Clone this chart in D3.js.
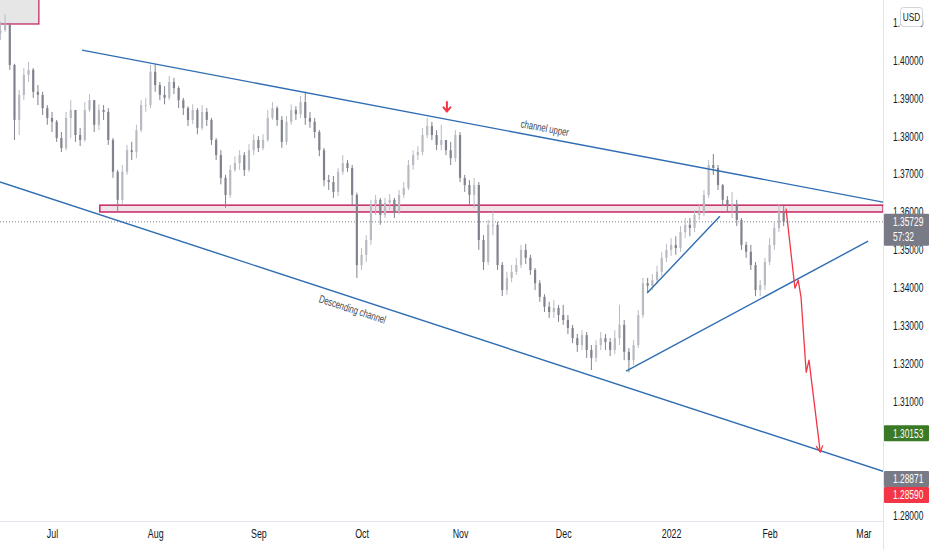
<!DOCTYPE html>
<html><head><meta charset="utf-8">
<script src="https://cdn.jsdelivr.net/npm/d3@7/dist/d3.min.js"></script>
<style>
html,body{margin:0;padding:0;background:#fff;}
svg{display:block;}
text{font-family:"Liberation Sans",Arial,sans-serif;}
</style></head>
<body>
<svg id="chart" width="932" height="550"></svg>
<script>
// ---------------- DATA ----------------
// daily bars, bar index 0 = 1 Jul 2021 (trading-day index)
const firstBar = -11;
const firstOpen = 1.4070;
const high = [1.4101,1.4121,1.4098,1.3990,1.3921,1.3979,1.3995,1.3979,1.3934,1.3916,1.3881,
1.3863,1.3842,1.3810,1.3863,1.3894,1.3868,1.3821,1.3889,1.3910,1.3894,1.3883,1.3881,1.3873,1.3794,1.3710,1.3723,1.3776,1.3784,1.3829,1.3894,1.3900,1.3987,
1.3989,1.3942,1.3931,1.3958,1.3953,1.3931,1.3900,1.3878,1.3883,1.3873,1.3881,1.3873,1.3847,1.3794,1.3762,1.3697,1.3723,1.3746,1.3762,1.3757,1.3778,1.3804,
1.3799,1.3804,1.3868,1.3889,1.3878,1.3852,1.3852,1.3883,1.3878,1.3905,1.3916,1.3863,1.3847,1.3815,1.3768,1.3697,1.3694,1.3715,1.3749,1.3736,1.3723,1.3650,
1.3504,1.3538,1.3631,1.3644,1.3636,1.3636,1.3646,1.3636,1.3657,1.3678,1.3736,1.3762,1.3773,1.3821,1.3847,1.3837,1.3815,1.3829,1.3789,1.3784,1.3815,
1.3810,1.3697,1.3683,1.3689,1.3678,1.3538,1.3578,1.3599,1.3573,1.3467,1.3441,1.3459,1.3478,1.3512,1.3515,1.3486,1.3451,1.3419,1.3382,1.3362,1.3367,1.3354,
1.3354,1.3327,1.3301,1.3277,1.3287,1.3282,1.3248,1.3261,1.3282,1.3277,1.3266,1.3287,1.3354,1.3314,1.3240,1.3261,1.3340,1.3425,1.3425,1.3435,1.3457,1.3494,1.3515,
1.3530,1.3535,1.3562,1.3583,1.3583,1.3604,1.3618,1.3657,1.3736,1.3752,1.3723,1.3673,1.3641,1.3652,1.3631,1.3583,1.3520,1.3512,1.3467,1.3419,1.3478,
1.3530,1.3573,1.3618,1.3615];
const low = [1.4053,1.4074,1.3974,1.3789,1.3802,1.3894,1.3942,1.3900,1.3881,1.3855,1.3829,
1.3810,1.3784,1.3757,1.3762,1.3794,1.3784,1.3773,1.3784,1.3863,1.3810,1.3815,1.3842,1.3776,1.3689,1.3599,1.3618,1.3697,1.3736,1.3741,1.3810,1.3863,1.3873,
1.3916,1.3894,1.3883,1.3894,1.3910,1.3873,1.3855,1.3826,1.3831,1.3804,1.3815,1.3826,1.3776,1.3736,1.3672,1.3610,1.3636,1.3705,1.3710,1.3694,1.3705,1.3749,
1.3757,1.3762,1.3784,1.3842,1.3826,1.3768,1.3776,1.3829,1.3842,1.3847,1.3829,1.3821,1.3794,1.3746,1.3667,1.3657,1.3636,1.3641,1.3697,1.3705,1.3618,1.3425,
1.3446,1.3467,1.3512,1.3591,1.3565,1.3583,1.3604,1.3583,1.3593,1.3636,1.3657,1.3710,1.3736,1.3749,1.3794,1.3789,1.3762,1.3762,1.3749,1.3723,1.3731,
1.3678,1.3652,1.3618,1.3610,1.3499,1.3446,1.3459,1.3538,1.3446,1.3377,1.3380,1.3414,1.3433,1.3451,1.3462,1.3433,1.3393,1.3362,1.3335,1.3319,1.3319,1.3309,
1.3301,1.3277,1.3253,1.3230,1.3235,1.3214,1.3182,1.3203,1.3235,1.3235,1.3219,1.3224,1.3248,1.3208,1.3176,1.3195,1.3240,1.3319,1.3388,1.3393,1.3409,1.3430,1.3467,
1.3483,1.3486,1.3494,1.3530,1.3535,1.3546,1.3578,1.3588,1.3636,1.3697,1.3657,1.3615,1.3599,1.3583,1.3562,1.3499,1.3478,1.3446,1.3377,1.3377,1.3393,
1.3459,1.3499,1.3546,1.3562];
const close = [1.4079,1.4093,1.3987,1.3842,1.3908,1.3961,1.3974,1.3916,1.3908,1.3873,1.3847,
1.3837,1.3794,1.3768,1.3847,1.3868,1.3802,1.3789,1.3868,1.3894,1.3829,1.3868,1.3863,1.3789,1.3705,1.3631,1.3705,1.3762,1.3757,1.3815,1.3881,1.3881,1.3969,
1.3934,1.3908,1.3900,1.3942,1.3926,1.3894,1.3873,1.3842,1.3868,1.3821,1.3863,1.3842,1.3789,1.3749,1.3689,1.3644,1.3710,1.3728,1.3749,1.3710,1.3762,1.3789,
1.3768,1.3789,1.3847,1.3873,1.3842,1.3784,1.3837,1.3868,1.3857,1.3889,1.3847,1.3837,1.3810,1.3762,1.3683,1.3678,1.3652,1.3705,1.3728,1.3715,1.3644,1.3459,
1.3486,1.3525,1.3618,1.3631,1.3591,1.3623,1.3631,1.3599,1.3644,1.3662,1.3723,1.3749,1.3757,1.3802,1.3826,1.3802,1.3776,1.3789,1.3762,1.3741,1.3802,
1.3689,1.3670,1.3644,1.3670,1.3525,1.3467,1.3565,1.3565,1.3459,1.3393,1.3425,1.3441,1.3459,1.3499,1.3478,1.3446,1.3411,1.3375,1.3349,1.3335,1.3346,1.3327,
1.3314,1.3293,1.3266,1.3248,1.3274,1.3235,1.3214,1.3248,1.3266,1.3256,1.3235,1.3266,1.3301,1.3230,1.3208,1.3248,1.3327,1.3411,1.3404,1.3419,1.3441,1.3478,1.3499,
1.3512,1.3504,1.3546,1.3565,1.3557,1.3591,1.3599,1.3644,1.3723,1.3715,1.3670,1.3631,1.3618,1.3618,1.3578,1.3512,1.3494,1.3459,1.3393,1.3406,1.3467,
1.3512,1.3557,1.3599,1.3573];

const monthLabels = ["Jul","Aug","Sep","Oct","Nov","Dec","2022","Feb","Mar"];
const monthBars   = [0,22,44,66,87,109,132,153,173];
const priceTicks  = [1.28,1.29,1.31,1.32,1.33,1.34,1.35,1.36,1.37,1.38,1.39,1.40,1.41];

// drawings: [bar, price]
const upperChannel  = [[6.4,1.4026],[177.2,1.3625]];
const lowerChannel  = [[-11.1,1.3678],[177.2,1.2915]];
const risingSupport = [[122.4,1.3179],[174.0,1.3522]];
const shortTrend    = [[126.9,1.3385],[142.4,1.3588]];
const projection    = [[156.5,1.3608],[158.4,1.3398],[159.1,1.3419],[159.7,1.3374],[160.8,1.3176],[161.4,1.3208],[163.8,1.2966]];
const zoneBars   = [10.2,177.2];
const zonePrices = [1.3617,1.3599];
const boxBars    = [-13,-2.8];
const boxPrices  = [1.4200,1.4095];
const arrowMark  = [84.2,1.3863];
const upperLabel = {text:"channel upper", bar:104.7};
const lowerLabel = {text:"Descending channel", bar:64.8};

const lastPrice = 1.35729, countdown = "57:32";
const priceLabels = [
  {p:1.30153, col:"#3a7a26"},
  {p:1.28871, col:"#787b86"},
  {p:1.28590, col:"#f23645"}
];

// ---------------- CHART ----------------
const svg = d3.select("#chart");
const plotR = 883, plotB = 521;
const x = d3.scaleLinear().domain([0,173]).range([52,863.4]);
const y = d3.scaleLinear().domain([1.28,1.41]).range([514.8,22.1]);
const SX = 0.7;

svg.append("defs").append("clipPath").attr("id","clip")
  .append("rect").attr("x",0).attr("y",0).attr("width",plotR).attr("height",plotB);
const g = svg.append("g").attr("clip-path","url(#clip)");

// top-left box
g.append("rect").attr("x",x(boxBars[0])).attr("y",y(boxPrices[0]))
  .attr("width",x(boxBars[1])-x(boxBars[0])).attr("height",y(boxPrices[1])-y(boxPrices[0]))
  .attr("fill","#e6e6e7").attr("stroke","#c2185b").attr("stroke-width",1.2);

// zone
g.append("rect").attr("x",x(zoneBars[0])).attr("y",y(zonePrices[0]))
  .attr("width",x(zoneBars[1])-x(zoneBars[0])).attr("height",y(zonePrices[1])-y(zonePrices[0]))
  .attr("fill","#f1e4e8").attr("stroke","#c2185b").attr("stroke-width",1.4);

// dotted last price line
g.append("line").attr("x1",0).attr("x2",plotR).attr("y1",y(lastPrice)).attr("y2",y(lastPrice))
  .attr("stroke","#787b86").attr("stroke-width",1).attr("stroke-dasharray","1,2");

// candles
const bars = close.map((c,k)=>({i:firstBar+k, o:k?close[k-1]:firstOpen, h:high[k], l:low[k], c}));
const upCol = "#b8bbc2", dnCol = "#80838d";
g.append("g").selectAll("line").data(bars).join("line")
  .attr("x1",d=>x(d.i)).attr("x2",d=>x(d.i))
  .attr("y1",d=>y(d.h)).attr("y2",d=>y(d.l))
  .attr("stroke",d=>d.c>=d.o?upCol:dnCol).attr("stroke-width",1);
g.append("g").selectAll("rect").data(bars).join("rect")
  .attr("x",d=>x(d.i)-1.1).attr("width",2.2)
  .attr("y",d=>y(Math.max(d.o,d.c)))
  .attr("height",d=>Math.max(0.8,Math.abs(y(d.o)-y(d.c))))
  .attr("fill",d=>d.c>=d.o?upCol:dnCol);

// trend lines
const line = d3.line().x(d=>x(d[0])).y(d=>y(d[1]));
[upperChannel,lowerChannel,risingSupport,shortTrend].forEach(pts=>{
  g.append("path").attr("d",line(pts)).attr("fill","none")
   .attr("stroke","#2f6db3").attr("stroke-width",1.4);
});

// projection path
g.append("path").attr("d",line(projection)).attr("fill","none")
  .attr("stroke","#f23645").attr("stroke-width",1.3).attr("stroke-linejoin","round");
{
  const a = projection[projection.length-2], b = projection[projection.length-1];
  const bx=x(b[0]), by=y(b[1]);
  const ang = Math.atan2(by-y(a[1]), bx-x(a[0]));
  const L=7, s=0.5;
  const p1=[bx-L*Math.cos(ang-s), by-L*Math.sin(ang-s)];
  const p2=[bx-L*Math.cos(ang+s), by-L*Math.sin(ang+s)];
  g.append("path").attr("d",`M${p1}L${bx},${by}L${p2}`).attr("fill","none")
   .attr("stroke","#f23645").attr("stroke-width",1.3);
}

// red down arrow
{
  const ax=x(arrowMark[0]), ay=y(arrowMark[1]);
  g.append("path").attr("d",`M${ax},${ay-10}L${ax},${ay-1}M${ax-3.5},${ay-4.5}L${ax},${ay-0.5}L${ax+3.5},${ay-4.5}`)
   .attr("fill","none").attr("stroke","#f23645").attr("stroke-width",2).attr("stroke-linecap","round");
}

// line labels
function lineLabel(pts, lab, off){
  const x0=x(pts[0][0]), y0=y(pts[0][1]), x1=x(pts[1][0]), y1=y(pts[1][1]);
  const px=x(lab.bar), t=(px-x0)/(x1-x0), py=y0+t*(y1-y0);
  const ang=Math.atan2(y1-y0,x1-x0)*180/Math.PI;
  g.append("text").text(lab.text)
   .attr("transform",`translate(${px},${py}) rotate(${ang}) translate(0,${off}) scale(${SX},1)`)
   .attr("text-anchor","middle").attr("font-size",11).attr("fill","#43464f");
}
lineLabel(upperChannel, upperLabel, -6);
lineLabel(lowerChannel, lowerLabel, 15);

// separators
svg.append("line").attr("x1",plotR+0.5).attr("x2",plotR+0.5).attr("y1",0).attr("y2",550).attr("stroke","#e0e3eb");
svg.append("line").attr("x1",0).attr("x2",plotR).attr("y1",plotB+0.5).attr("y2",plotB+0.5).attr("stroke","#e0e3eb");

// y axis
const ya = svg.append("g").attr("transform",`translate(${plotR+1},0)`)
  .call(d3.axisRight(y).tickValues(priceTicks).tickFormat(d3.format(".5f")).tickSize(0));
ya.select(".domain").remove();
ya.selectAll("text").attr("x",0).attr("dy","0.35em")
  .attr("transform",`translate(9,0) scale(${SX},1)`)
  .attr("font-size",12).attr("fill","#131722").attr("font-family","Liberation Sans, Arial, sans-serif");

// x axis
const xa = svg.append("g").attr("transform",`translate(0,${plotB})`)
  .call(d3.axisBottom(x).tickValues(monthBars).tickFormat((d,i)=>monthLabels[i]).tickSize(0));
xa.select(".domain").remove();
xa.selectAll("text").attr("y",8).attr("transform",`scale(${SX+0.04},1)`)
  .attr("font-size",12).attr("fill","#131722").attr("font-family","Liberation Sans, Arial, sans-serif");

// USD box
svg.append("rect").attr("x",900.5).attr("y",7.5).attr("width",22).attr("height",19).attr("rx",3)
  .attr("fill","#fff").attr("stroke","#d1d4dc");
svg.append("text").text("USD").attr("transform",`translate(911.5,20.5) scale(0.75,1)`)
  .attr("text-anchor","middle").attr("font-size",11).attr("fill","#131722");

// price labels
function priceBox(cy, col, lines){
  const h=16*lines.length;
  svg.append("rect").attr("x",plotR+1).attr("y",cy-8).attr("width",45).attr("height",h)
    .attr("rx",1).attr("fill",col);
  lines.forEach((t,k)=>{
    svg.append("text").text(t).attr("transform",`translate(${plotR+10},${cy+4.3+k*15}) scale(${SX},1)`)
      .attr("font-size",12).attr("fill","#fff");
  });
}
const lab = priceLabels.map(d=>({...d, cy:y(d.p)}));
for(let k=1;k<lab.length;k++){
  const gap = lab[k].cy-lab[k-1].cy;
  if(gap<16){ const sh=(16-gap)/2; lab[k-1].cy-=sh; lab[k].cy+=sh; }
}
lab.forEach(d=>priceBox(d.cy, d.col, [d3.format(".5f")(d.p)]));
priceBox(y(lastPrice), "#787b86", [d3.format(".5f")(lastPrice), countdown]);
</script>
</body></html>
